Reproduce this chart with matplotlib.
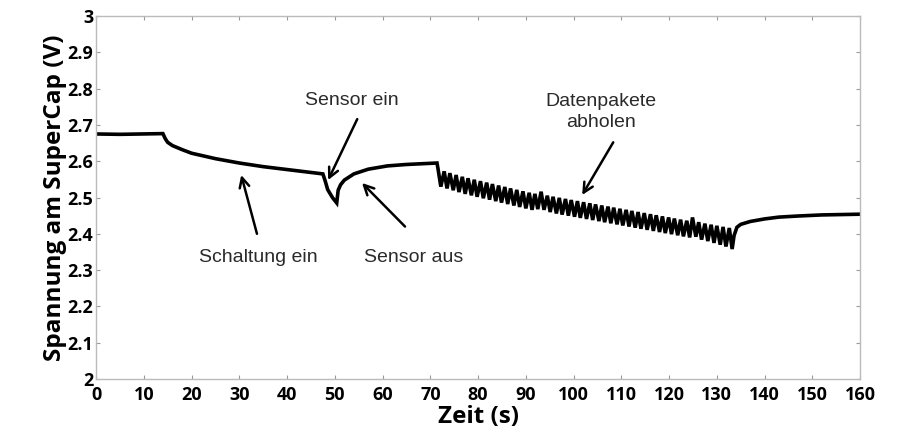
import matplotlib
matplotlib.use("Agg")
import matplotlib.pyplot as plt

# Zeit (s) und Spannung (V)
t_start = [0, 5, 10, 14.0, 14.5, 15.0, 16.0, 18.0, 20.0, 25.0, 30.0, 35.0, 40.0, 45.0, 47.5]
v_start = [2.675, 2.674, 2.675, 2.676, 2.662, 2.652, 2.643, 2.632, 2.622, 2.607, 2.595, 2.585, 2.577, 2.569, 2.565]

# Sensor ein / Sensor aus
t_sensor = [48.0, 48.5, 49.5, 50.4, 50.7, 51.2, 52.0, 54.0, 57.0, 61.0, 65.0, 71.0, 71.4]
v_sensor = [2.545, 2.522, 2.500, 2.485, 2.520, 2.535, 2.548, 2.565, 2.578, 2.587, 2.591, 2.595, 2.595]

# Datenpakete abholen: Spitzen und Taeler
t_osc = [71.6, 72.2, 72.9, 73.5, 74.1, 74.8, 75.4, 76.0, 76.7, 77.3,
         77.9, 78.6, 79.2, 79.8, 80.5, 81.1, 81.8, 82.4, 83.0, 83.7,
         84.3, 84.9, 85.6, 86.2, 86.8, 87.5, 88.1, 88.7, 89.4, 90.0,
         90.7, 91.3, 91.9, 92.5, 93.2, 93.8, 94.5, 95.1, 95.7, 96.4,
         97.0, 97.6, 98.3, 98.9, 99.5, 100.2, 100.8, 101.4, 102.1, 102.7,
         103.4, 104.0, 104.6, 105.3, 105.9, 106.5, 107.2, 107.8, 108.4, 109.1,
         109.7, 110.3, 111.0, 111.6, 112.2, 112.9, 113.5, 114.1, 114.8, 115.4,
         116.1, 116.7, 117.3, 118.0, 118.6, 119.2, 119.9, 120.5, 121.1, 121.8,
         122.4, 123.0, 123.7, 124.3, 124.9, 125.6, 126.2, 126.8, 127.5, 128.1,
         128.8, 129.4, 130.0, 130.7, 131.3, 131.9, 132.6, 133.2]
v_osc = [2.580, 2.530, 2.572, 2.525, 2.567, 2.520, 2.562, 2.515, 2.557, 2.510,
         2.553, 2.506, 2.549, 2.502, 2.545, 2.498, 2.541, 2.494, 2.537, 2.490,
         2.533, 2.486, 2.529, 2.482, 2.525, 2.478, 2.521, 2.474, 2.517, 2.470,
         2.513, 2.466, 2.510, 2.468, 2.516, 2.466, 2.505, 2.460, 2.502, 2.456,
         2.499, 2.453, 2.496, 2.450, 2.493, 2.447, 2.490, 2.444, 2.487, 2.441,
         2.484, 2.438, 2.481, 2.435, 2.478, 2.432, 2.475, 2.429, 2.472, 2.426,
         2.469, 2.423, 2.466, 2.420, 2.463, 2.417, 2.460, 2.414, 2.457, 2.411,
         2.454, 2.408, 2.451, 2.405, 2.448, 2.402, 2.445, 2.399, 2.442, 2.396,
         2.439, 2.393, 2.436, 2.390, 2.445, 2.392, 2.432, 2.384, 2.428, 2.380,
         2.425, 2.375, 2.422, 2.370, 2.419, 2.365, 2.416, 2.358]

# Erholung nach den Datenpaketen
t_end = [133.6, 134.2, 135.0, 137.0, 140.0, 143.0, 147.0, 152.0, 156.0, 160.0]
v_end = [2.395, 2.418, 2.426, 2.434, 2.441, 2.446, 2.449, 2.452, 2.453, 2.454]

x_ticks = list(range(0, 161, 10))
y_ticks = [2, 2.1, 2.2, 2.3, 2.4, 2.5, 2.6, 2.7, 2.8, 2.9, 3]
y_ticklabels = ["2", "2.1", "2.2", "2.3", "2.4", "2.5", "2.6", "2.7", "2.8", "2.9", "3"]

# Anmerkungen: Text, Textposition, Pfeilspitze, Pfeilende
notes = [
    ("Schaltung ein", (33.9, 2.336), (30.4, 2.562), (33.7, 2.400)),
    ("Sensor ein", (53.6, 2.766), (48.6, 2.548), (54.7, 2.716)),
    ("Sensor aus", (66.6, 2.336), (55.7, 2.540), (64.7, 2.420)),
    ("Datenpakete\nabholen", (105.8, 2.736), (101.8, 2.507), (108.3, 2.652)),
]

t = t_start + t_sensor + t_osc + t_end
v = v_start + v_sensor + v_osc + v_end

fig = plt.figure(figsize=(9, 4.37), dpi=100)
ax = fig.add_axes([0.1067, 0.1327, 0.849, 0.8307])

ax.plot(t, v, color="black", linewidth=2.6, solid_joinstyle="miter")

ax.set_xlim(0, 160)
ax.set_ylim(2, 3)
ax.set_xticks(x_ticks)
ax.set_yticks(y_ticks)
ax.set_yticklabels(y_ticklabels)

for lbl in ax.get_xticklabels() + ax.get_yticklabels():
    lbl.set_fontfamily("Open Sans")
    lbl.set_fontweight("bold")
    lbl.set_fontsize(13)

ax.tick_params(direction="in", length=3, width=0.8, color="#999999",
               top=True, right=True)
ax.tick_params(axis="x", pad=5)
ax.tick_params(axis="y", pad=2)
for sp in ax.spines.values():
    sp.set_color("#bbbbbb")
    sp.set_linewidth(1.0)

ax.set_xlabel("Zeit (s)", fontfamily="Open Sans", fontweight="bold", fontsize=17.5, labelpad=1)
ax.set_ylabel("Spannung am SuperCap (V)", fontfamily="Open Sans", fontweight="bold",
              fontsize=17.5, labelpad=0)

for text, pos, tip, tail in notes:
    ax.text(pos[0], pos[1], text, ha="center", va="center", fontsize=14,
            fontfamily="Liberation Sans", color="#2a2a2a", linespacing=1.3)
    ax.annotate("", xy=tip, xytext=tail,
                arrowprops=dict(arrowstyle="->,head_length=0.7,head_width=0.35",
                                color="black", lw=1.8, shrinkA=0, shrinkB=0))

fig.savefig("out.png", dpi=100)
